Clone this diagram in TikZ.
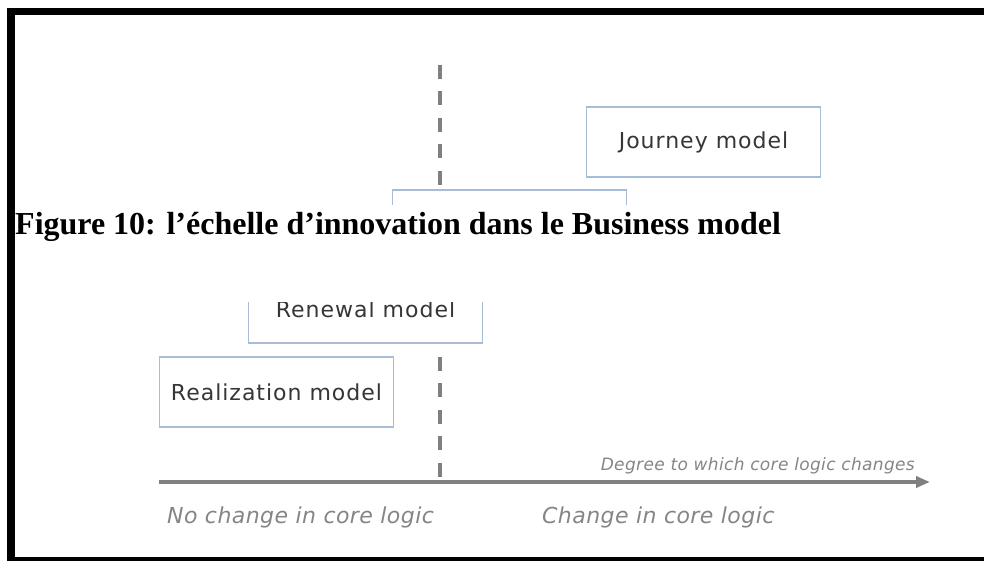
\documentclass[tikz,border=0pt]{standalone}
\usepackage{fontspec}
\setmainfont{Liberation Serif}
\newfontfamily\boxfont[LetterSpace=4.5]{DejaVu Sans}
\newfontfamily\axisfont[LetterSpace=2]{DejaVu Sans}
\usepackage{xcolor}
\usetikzlibrary{arrows.meta,positioning,shapes.geometric}
\definecolor{boxblue}{HTML}{A7BDD7}
\definecolor{boxtext}{HTML}{363636}
\definecolor{axisgrey}{HTML}{808080}
\definecolor{labelgrey}{HTML}{858585}

\begin{document}
\begin{tikzpicture}[x=1pt,y=-1pt,
    model/.style={rectangle,draw=boxblue,line width=1.5pt,fill=white,minimum width=234pt,minimum height=70pt,inner sep=0pt,font=\boxfont\fontsize{22}{26}\selectfont,text=boxtext},
    axislabel/.style={font=\axisfont\itshape\fontsize{22}{26}\selectfont,text=labelgrey,inner sep=0pt}]
	 \useasboundingbox (0,0) rectangle (984,561);
	 \coordinate (top) at (440,65);
	 \coordinate (mid) at (440,482);
	 \coordinate (start) at (159,482);
	 \coordinate (end) at (930,482);

	 \draw[axisgrey,line width=4.5pt,dash pattern=on 14pt off 12.5pt] (top) -- (mid);
	 \draw[axisgrey,line width=3.5pt,-{Triangle[length=14pt,width=11pt]}] (start) -> (end);

	 \node at (703.5,142) [model] (journey) {Journey model};
	 \node at (509.5,225) [model] (revision) {};
	 \node at (365.5,309.5) [model,minimum height=67pt] (renewal) {Renewal model};
	 \node at (276.5,392) [model] (realization) {Realization model};

	 \node at (915,470) [axislabel,anchor=base east,font=\axisfont\itshape\fontsize{17}{20}\selectfont] (degree) {Degree to which core logic changes};
	 \node at (167,523) [axislabel,anchor=base west] (nochange) {No change in core logic};
	 \node at (542,523) [axislabel,anchor=base west] (change) {Change in core logic};

	 \fill[white] (15,205) rectangle (984,302);
	 \node at (15,235) [anchor=base west,inner sep=0pt,font=\bfseries\fontsize{32}{36}\selectfont] (caption) {Figure 10: l’échelle d’innovation dans le Business model};

	 \fill[black] (7,8) rectangle (984,15);
	 \fill[black] (7,8) rectangle (15,561);
	 \fill[black] (7,557) rectangle (984,561);
\end{tikzpicture}
\end{document}
